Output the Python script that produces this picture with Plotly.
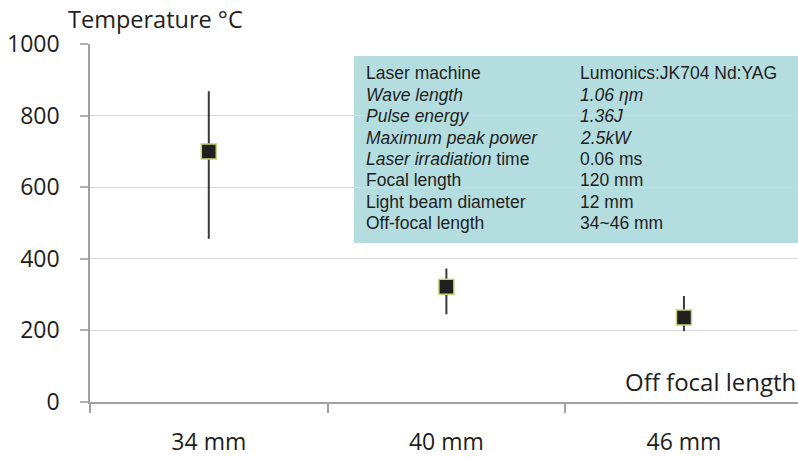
import plotly.graph_objects as go

categories = ["34 mm", "40 mm", "46 mm"]
temps = [700, 322, 236]
upper = [868, 373, 296]
lower = [456, 245, 198]
y_ticks = [0, 200, 400, 600, 800, 1000]

table_labels = ["Laser machine", "<i>Wave length</i>", "<i>Pulse energy</i>",
                "<i>Maximum peak power</i>", "<i>Laser irradiation</i> time",
                "Focal length", "Light beam diameter", "Off-focal length"]
table_values = ["Lumonics:JK704 Nd:YAG", "<i>1.06 \u03b7m</i>", "<i>1.36J</i>",
                "<i>2.5kW</i>", "0.06 ms", "120 mm", "12 mm", "34~46 mm"]

err_plus = [u - t for u, t in zip(upper, temps)]
err_minus = [t - l for t, l in zip(temps, lower)]

W, H = 798, 459
L, R, T, B = 90, 0, 44, 57
pw, ph = W - L - R, H - T - B

def px(x):
    return (x - L) / pw

def py(y):
    return (H - B - y) / ph

fig = go.Figure()
fig.add_trace(go.Scatter(
    x=categories, y=temps, mode="markers",
    marker=dict(symbol="square", size=15, color="#202020",
                line=dict(color="#c9d27a", width=1.5)),
    error_y=dict(type="data", symmetric=False, array=err_plus,
                 arrayminus=err_minus, thickness=2, width=0, color="#3a3a3a"),
    showlegend=False,
))

fig.add_shape(type="rect", xref="paper", yref="paper",
              x0=px(354), x1=1.02, y0=py(243), y1=py(56),
              fillcolor="#b4dde0", line=dict(width=0), layer="below")

tfont = dict(family="Liberation Sans, Arial, sans-serif", size=17.5, color="#1e1e1e")
for i, (lab, val) in enumerate(zip(table_labels, table_values)):
    yy = py(73.3 + i * 21.4)
    fig.add_annotation(x=px(364), y=yy, xref="paper", yref="paper", text=lab,
                       showarrow=False, xanchor="left", yanchor="middle", font=tfont)
    fig.add_annotation(x=px(578), y=yy, xref="paper", yref="paper", text=val,
                       showarrow=False, xanchor="left", yanchor="middle", font=tfont)

FAM = "Open Sans, sans-serif"
fig.add_annotation(x=px(66), y=py(19), xref="paper", yref="paper",
                   text="Temperature \u00b0C", showarrow=False,
                   xanchor="left", yanchor="middle",
                   font=dict(family=FAM, size=23.5, color="#1e1e1e"))
fig.add_annotation(x=px(798), y=py(381), xref="paper", yref="paper",
                   text="Off focal length", showarrow=False,
                   xanchor="right", yanchor="middle",
                   font=dict(family=FAM, size=24, color="#1e1e1e"))

fig.update_layout(
    width=W, height=H,
    margin=dict(l=L, r=R, t=T, b=B, pad=0),
    paper_bgcolor="white", plot_bgcolor="white",
    xaxis=dict(type="category", range=[-0.5, 2.48], showgrid=False,
               showline=True, linecolor="#a0a0a0", linewidth=1.5,
               ticks="outside", tickson="boundaries", ticklen=9,
               tickcolor="#a0a0a0", tickwidth=1.5,
               tickfont=dict(family=FAM, size=23, color="#1e1e1e"),
               ticklabelstandoff=19, zeroline=False),
    yaxis=dict(range=[0, 1000], tickvals=y_ticks, showgrid=True,
               gridcolor="#d9d9d9", gridwidth=1,
               showline=True, linecolor="#a0a0a0", linewidth=1.5,
               ticks="outside", ticklen=8, tickcolor="#b0b0b0", tickwidth=1.5,
               tickfont=dict(family=FAM, size=23, color="#1e1e1e"),
               ticklabelstandoff=16, zeroline=False),
)

fig.write_html("out.html")
